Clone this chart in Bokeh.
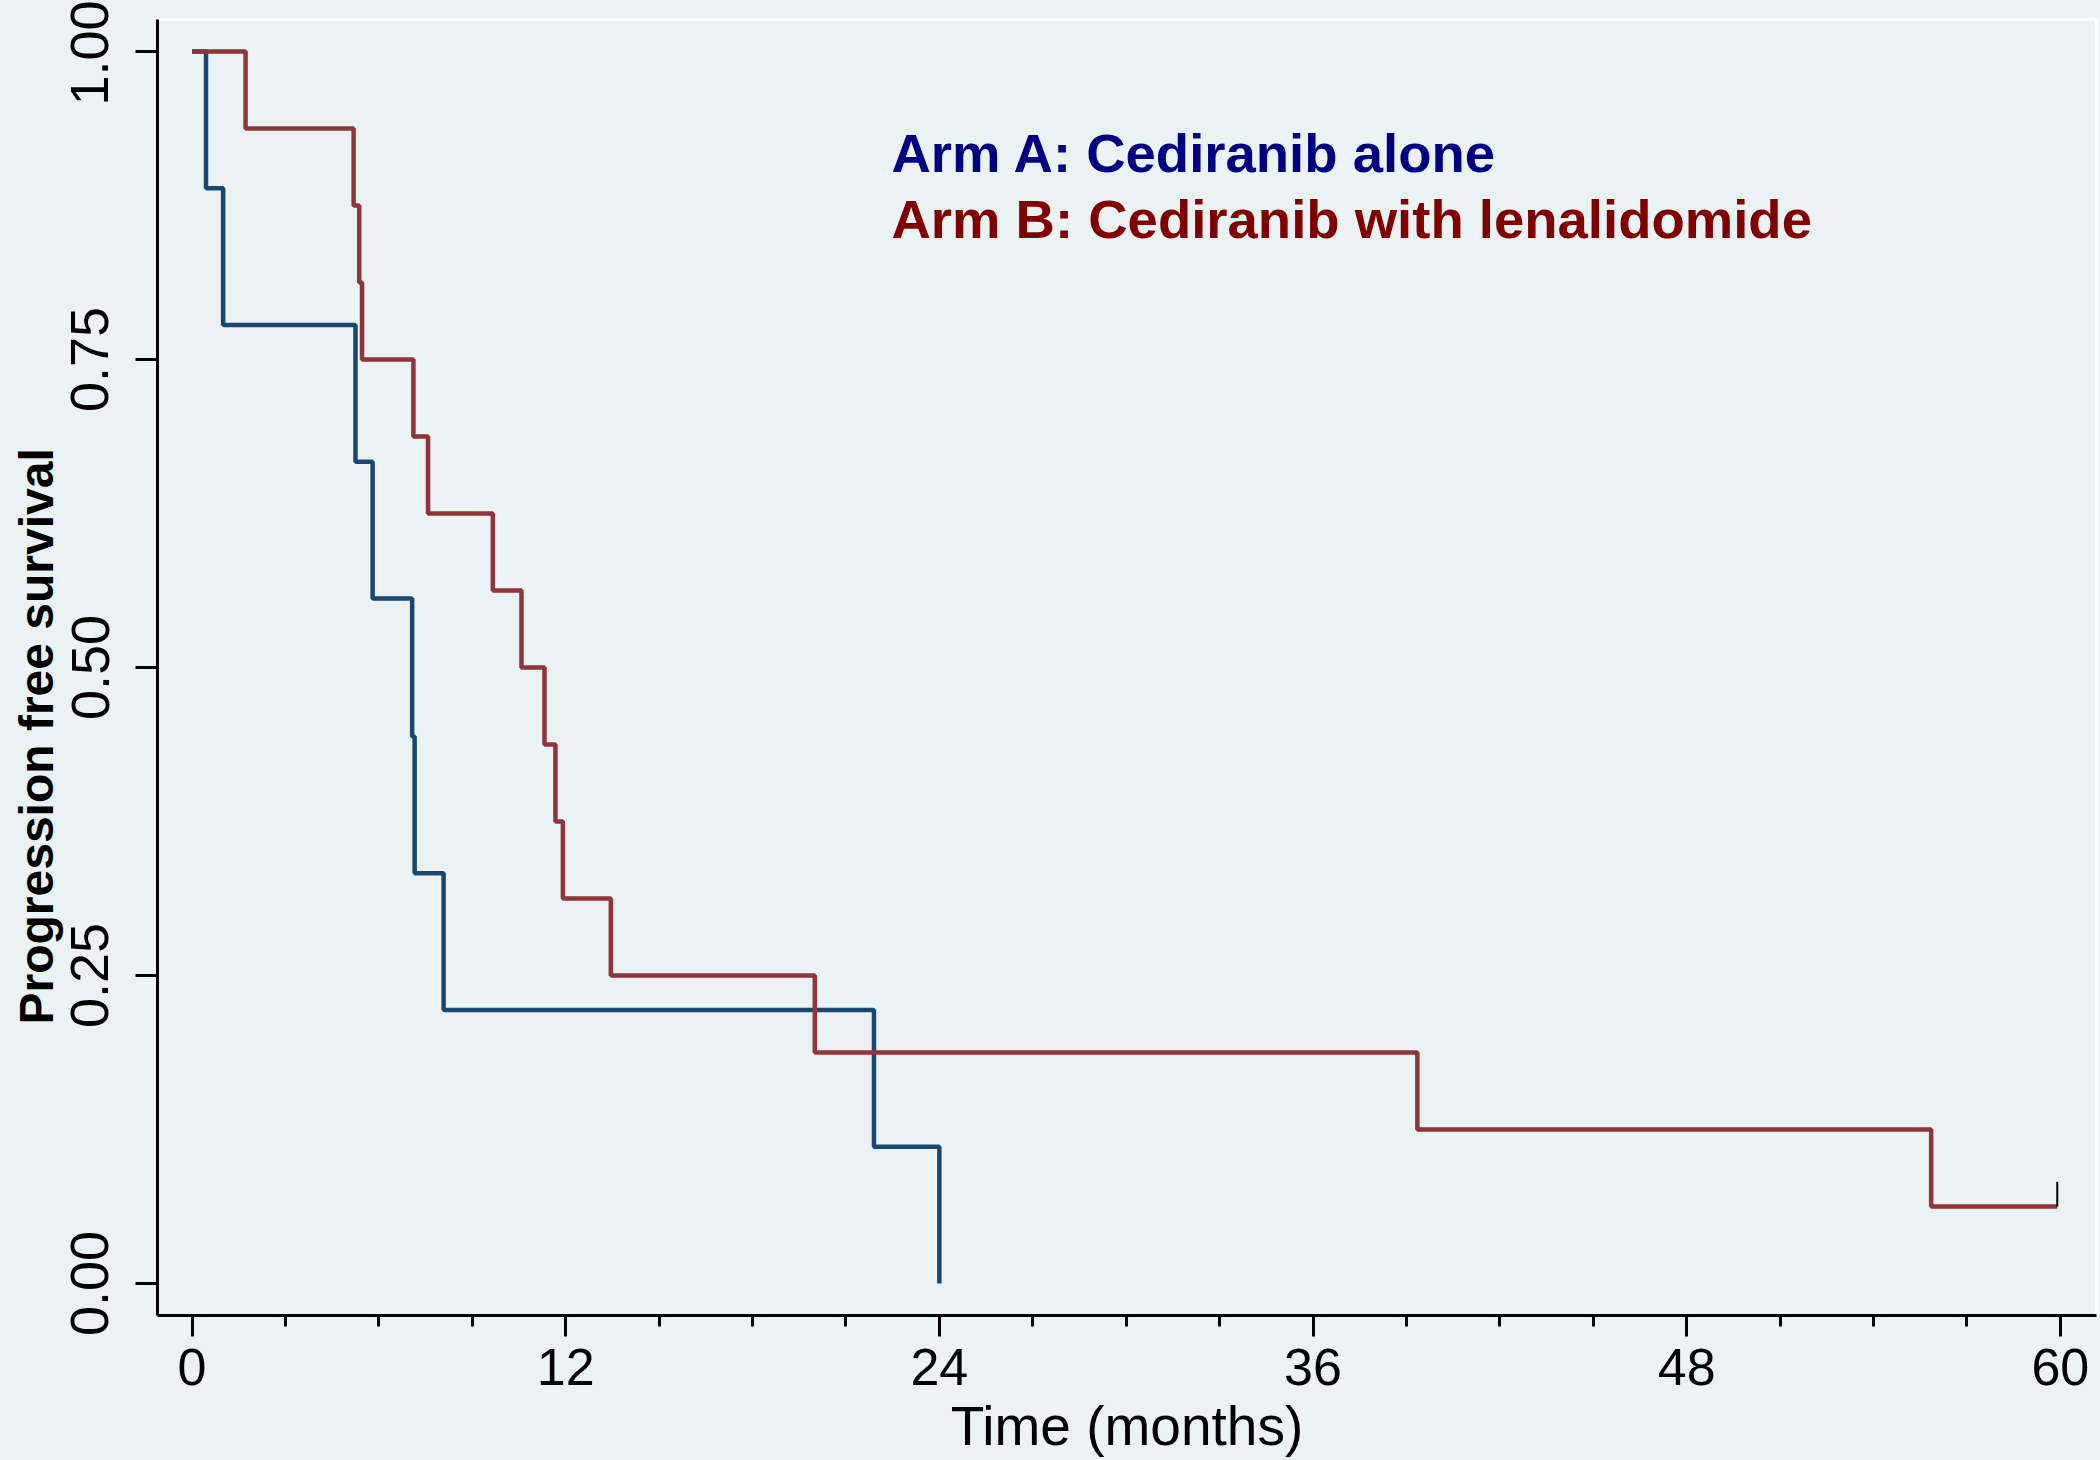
import re
from bokeh.plotting import figure
from bokeh.models import Range1d, FixedTicker, Label, NumeralTickFormatter, ColumnDataSource, Title
from bokeh.embed import file_html
from bokeh.resources import INLINE

# ---- data ----
arm_a_time = [0, 0.45, 1.0, 5.25, 5.8, 7.07, 7.15, 8.08, 21.9, 24.0]
arm_a_surv = [1.0, 0.889, 0.778, 0.667, 0.556, 0.444, 0.333, 0.222, 0.111, 0.0]

arm_b_time = [0, 1.72, 5.19, 5.37, 5.46, 7.11, 7.58, 9.66, 10.58, 11.32, 11.67,
              11.91, 13.45, 20.0, 39.35, 55.85, 59.9]
arm_b_surv = [1.0, 0.9375, 0.875, 0.8125, 0.75, 0.6875, 0.625, 0.5625, 0.5, 0.4375,
              0.375, 0.3125, 0.25, 0.1875, 0.125, 0.0625, 0.0625]

censor_time = [59.9]
censor_surv = [0.0625]

x_ticks = [0, 12, 24, 36, 48, 60]
x_minor = [3, 6, 9, 15, 18, 21, 27, 30, 33, 39, 42, 45, 51, 54, 57]
y_ticks = [0.0, 0.25, 0.5, 0.75, 1.0]

legend_labels = ["Arm A: Cediranib alone", "Arm B: Cediranib with lenalidomide"]
x_title = "Time (months)"
y_title = "Progression free survival"

# ---- style ----
BG = "#eaf2f3"
BLUE = "#1a476f"
RED = "#90353b"
TXT_A = "#000080"
TXT_B = "#800000"
FONT = "Liberation Sans"

p = figure(width=2100, height=1460, output_backend="svg", toolbar_location=None,
           x_range=Range1d(-1.108, 61.16), y_range=Range1d(-0.026, 1.026),
           min_border_left=157, min_border_top=19, min_border_right=4,
           min_border_bottom=145,
           background_fill_color=BG, border_fill_color=BG,
           outline_line_color="white", outline_line_width=3)
p.grid.visible = False

p.step(arm_a_time, arm_a_surv, mode="after", line_color=BLUE, line_width=4.5)
p.step(arm_b_time, arm_b_surv, mode="after", line_color=RED, line_width=4.5)

cens = ColumnDataSource(dict(x=censor_time, y0=censor_surv,
                             y1=[v + 0.02 for v in censor_surv]))
p.segment(x0="x", y0="y0", x1="x", y1="y1", source=cens, line_color="black", line_width=2)

# axes
for ax in (p.xaxis, p.yaxis):
    ax.axis_line_color = "black"
    ax.axis_line_width = 3
    ax.major_tick_line_color = "black"
    ax.major_tick_line_width = 3
    ax.major_tick_in = 0
    ax.major_label_text_font = FONT
    ax.major_label_text_color = "black"

p.xaxis.ticker = FixedTicker(ticks=x_ticks, minor_ticks=x_minor)
p.xaxis.major_tick_out = 21
p.xaxis.minor_tick_out = 11
p.xaxis.minor_tick_in = 0
p.xaxis.minor_tick_line_color = "black"
p.xaxis.minor_tick_line_width = 3
p.xaxis.major_label_text_font_size = "52px"
p.xaxis.major_label_standoff = 12
p.xaxis.axis_label = x_title
p.xaxis.axis_label_text_font = FONT
p.xaxis.axis_label_text_font_size = "55px"
p.xaxis.axis_label_text_font_style = "normal"
p.xaxis.axis_label_text_color = "black"
p.xaxis.axis_label_standoff = 7

p.yaxis.ticker = FixedTicker(ticks=y_ticks)
p.yaxis.formatter = NumeralTickFormatter(format="0.00")
p.yaxis.major_tick_out = 22
p.yaxis.minor_tick_line_color = None
p.yaxis.major_label_orientation = "vertical"
p.yaxis.major_label_text_font_size = "54px"
p.yaxis.major_label_standoff = 27

# y title: Stata places it below the plot-region centre, at the left edge
p.add_layout(Title(text=y_title, align="left", offset=291, standoff=8,
                   vertical_align="top",
                   text_font=FONT, text_font_size="48px", text_font_style="bold",
                   text_color="black"), "left")

# legend text
p.add_layout(Label(x=22.46, y=0.917, text=legend_labels[0], text_color=TXT_A,
                   text_font=FONT, text_font_style="bold", text_font_size="54.5px",
                   text_baseline="alphabetic"))
p.add_layout(Label(x=22.46, y=0.864, text=legend_labels[1], text_color=TXT_B,
                   text_font=FONT, text_font_style="bold", text_font_size="54.5px",
                   text_baseline="alphabetic"))

html = file_html(p, INLINE)
style = "<style>html,body{margin:0;padding:0;overflow:hidden;background-color:%s;}</style>" % BG
html = html.replace("</head>", style + "</head>", 1)
open("out.html", "w").write(html)
